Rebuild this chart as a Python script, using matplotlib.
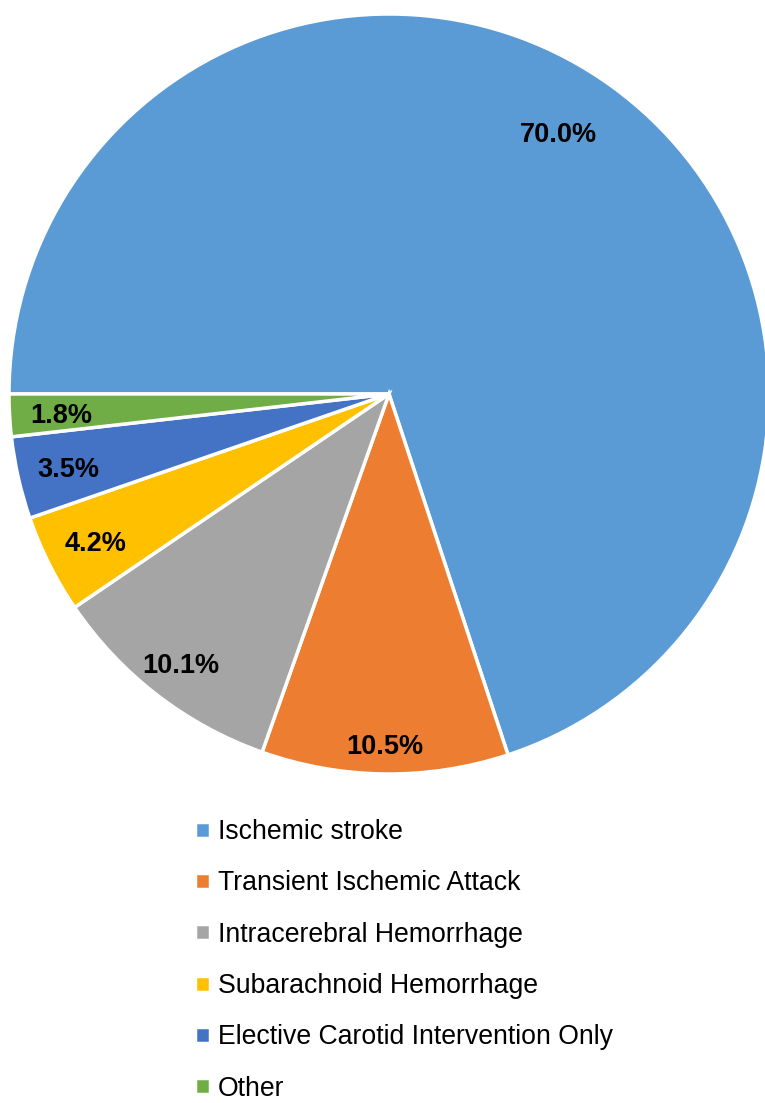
import numpy as np
import matplotlib.pyplot as plt

labels = ["Ischemic stroke", "Transient Ischemic Attack", "Intracerebral Hemorrhage",
          "Subarachnoid Hemorrhage", "Elective Carotid Intervention Only", "Other"]
values = [70.0, 10.5, 10.1, 4.2, 3.5, 1.8]
colors = ["#5B9BD5", "#ED7D31", "#A5A5A5", "#FFC000", "#4472C4", "#70AD47"]

plt.rcParams['font.family'] = ['Liberation Sans', 'DejaVu Sans']

fig = plt.figure(figsize=(7.65, 11.03), dpi=100)
# pie centre ~ (389, 393) px, radius ~ 380 px
ax = fig.add_axes([9/765, (1103-774)/1103, 760/765, 760/1103])
wedges, texts, autotexts = ax.pie(values, colors=colors, startangle=180, counterclock=False,
                                  labels=None, autopct='', radius=1,
                                  wedgeprops=dict(edgecolor='white', linewidth=2.5),
                                  textprops=dict(fontsize=19.5, fontweight='bold', color='black'))

# distance of each percentage label from the centre, and a small turn (deg)
label_r = [0.82, 0.92, 0.895, 0.865, 0.865, 0.865]
label_turn = [3, 0, 0, 0, 0, 0]
for w, t, v, r, d in zip(wedges, autotexts, values, label_r, label_turn):
    ang = np.deg2rad((w.theta1 + w.theta2) / 2 + d)
    t.set_text(f"{v:.1f}%")
    t.set_position((r*np.cos(ang), r*np.sin(ang) - 0.008))

ax.set_xlim(-1, 1)
ax.set_ylim(-1, 1)
ax.set_aspect('equal')
ax.axis('off')

fig.legend(wedges, labels, loc='upper left', bbox_to_anchor=(195/765, 1 - 819/1103),
           frameon=False, fontsize=19.2, handlelength=0.55, handleheight=0.55,
           handletextpad=0.3, labelspacing=0.95, borderpad=0, borderaxespad=0)

fig.savefig("out.png", dpi=100)
